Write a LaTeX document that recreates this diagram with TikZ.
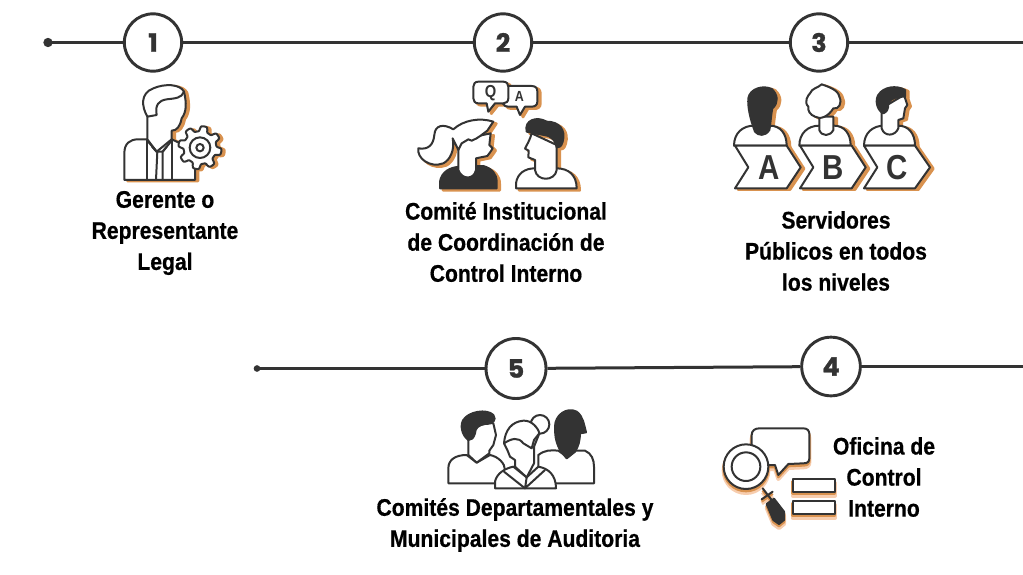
\documentclass[tikz,border=0pt]{standalone}
\usepackage{fontspec}
\setmainfont{Liberation Sans}
\newfontfamily\numf[BoldFeatures={FakeBold=1.2}]{Poppins}
\newfontfamily\lblf[FakeStretch=0.88,BoldFeatures={FakeBold=0.6}]{Liberation Sans}
\newfontfamily\letf[FakeStretch=0.85]{Liberation Sans}
\definecolor{ink}{HTML}{333333}
\definecolor{shad}{HTML}{D9924F}
\definecolor{glow}{HTML}{F7CDAE}
\tikzset{
  tl/.style={draw=ink,line width=1.5pt,line join=round,line cap=round},
  ln/.style={tl,fill=white},
  dk/.style={tl,fill=ink},
  op/.style={tl},
  track/.style={draw=ink,line width=2.25pt},
  badge/.style={circle,draw=ink,line width=2.2pt,fill=white,minimum size=43pt,inner sep=0pt,font=\numf\bfseries\fontsize{19}{19}\selectfont,text=ink},
  dotend/.style={circle,fill=ink,inner sep=0pt,minimum size=7pt},
  lbl/.style={align=center,text=black,font=\lblf\bfseries\fontsize{18}{23.3}\selectfont,inner sep=0pt},
  letter/.style={text=ink,inner sep=0pt},
  shadowed/.style={ln/.style={draw=shad,line width=2pt,fill=shad,line join=round},dk/.style={draw=shad,line width=2pt,fill=shad,line join=round},op/.style={draw=shad,line width=2pt,line join=round}},
  glowed/.style={ln/.style={draw=glow,line width=3pt,fill=glow,line join=round},dk/.style={draw=glow,line width=3pt,fill=glow,line join=round},op/.style={draw=glow,line width=3pt,line join=round}}
}
% ---- icon 1 : manager with gear
\newcommand\iconOne{%
  \path[ln] (283,510) -- (283,430) .. controls (283,400) and (300,388) .. (325,388) -- (352,388) -- (425,388) -- (495,420) -- (495,510) -- cycle;
  \path[ln] (352,388) -- (352,320) .. controls (335,290) and (330,250) .. (370,235) .. controls (405,220) and (450,222) .. (462,245) .. controls (470,280) and (470,305) .. (455,325) .. controls (450,350) and (440,362) .. (425,362) -- (425,388) -- (380,425) -- cycle;
  \path[op] (352,320) -- (380,315) .. controls (375,285) and (385,272) .. (410,268) .. controls (435,265) and (455,265) .. (462,245);
  \path[op] (352,388) -- (352,510) (425,388) -- (425,510);
  \path[op] (352,392) -- (380,425) -- (398,425) -- (425,392);
  \path[op] (382,425) -- (378,510) (398,425) -- (398,510) (366,410) -- (380,425) (410,410) -- (398,425);
  \path[ln] plot[samples=193,domain=0:360] ({510+(57+8*tanh(2.5*sin(8*\x)))*cos(\x)},{413+(57+8*tanh(2.5*sin(8*\x)))*sin(\x)}) -- cycle;
  \path[op] (510,413) circle (31) (510,413) circle (11);
}
% ---- icon 2 : Q and A
\newcommand\iconTwo{%
  \path[ln] (325,48) -- (395,48) .. controls (408,48) and (412,55) .. (412,65) -- (412,95) .. controls (412,105) and (405,110) .. (395,110) -- (375,110) -- (360,135) -- (350,110) -- (325,110) .. controls (318,110) and (312,108) .. (308,100) -- cycle;
  \path[ln] (235,35) -- (310,35) .. controls (320,35) and (325,42) .. (325,50) -- (325,85) .. controls (325,95) and (318,100) .. (310,100) -- (285,100) -- (265,125) -- (260,100) -- (235,100) .. controls (225,100) and (220,93) .. (220,85) -- (220,50) .. controls (220,42) and (225,35) .. (235,35) -- cycle;
  \path[dk] (120,355) -- (120,335) .. controls (125,305) and (150,292) .. (180,290) -- (250,288) .. controls (275,295) and (290,312) .. (290,335) -- (290,355) -- cycle;
  \path[ln] (175,235) -- (175,300) .. controls (185,330) and (222,330) .. (228,300) -- (228,265) -- (262,258) .. controls (268,250) and (272,245) .. (278,235) -- (268,225) -- (272,190) -- (225,200) -- (175,205) -- cycle;
  \path[ln] (280,155) .. controls (240,142) and (190,150) .. (160,178) .. controls (130,160) and (105,165) .. (103,195) .. controls (100,225) and (85,240) .. (55,235) .. controls (50,265) and (90,295) .. (130,280) .. controls (150,270) and (165,240) .. (158,205) -- (175,240) -- (185,220) -- (205,208) -- (215,212) .. controls (235,205) and (250,190) .. (262,182) -- cycle;
  \path[ln] (348,355) -- (348,340) .. controls (352,310) and (375,295) .. (405,295) -- (470,295) .. controls (505,295) and (530,315) .. (530,355) -- cycle;
  \path[ln] (405,270) -- (405,300) .. controls (410,335) and (465,335) .. (470,300) -- (470,225) -- (395,190) .. controls (390,210) and (380,225) .. (375,236) -- (386,242) -- (385,262) -- cycle;
  \path[dk] (380,185) .. controls (372,150) and (410,138) .. (440,155) .. controls (478,155) and (498,180) .. (488,215) .. controls (484,232) and (475,232) .. (470,232) .. controls (468,215) and (458,198) .. (432,195) -- cycle;
}
% ---- icon 3 : A B C people
\newcommand\chev[3]{%
  \path[ln] (#1,212) -- (#2,212) -- (#2+#3,277) -- (#2,340) -- (#1,340) -- (#1+40,277) -- cycle;
}
\newcommand\shoulders[2]{%
  \path[ln] (#1,212) .. controls (#1,175) and (#1+25,152) .. (#1+60,152) -- (#2-50,152) .. controls (#2-20,152) and (#2,175) .. (#2,212) -- cycle;
}
\newcommand\iconThree{%
  \shoulders{42}{200}\chev{45}{200}{42}
  \path[dk] (105,170) .. controls (90,130) and (83,95) .. (85,70) .. controls (90,40) and (130,30) .. (155,42) .. controls (175,60) and (175,85) .. (157,100) .. controls (152,125) and (152,145) .. (148,165) .. controls (135,185) and (115,182) .. (105,170) -- cycle;
  \shoulders{238}{392}\chev{240}{395}{42}
  \path[ln] (298,125) -- (298,165) .. controls (305,185) and (330,185) .. (340,165) -- (340,125) -- cycle;
  \path[ln] (305,28) .. controls (325,35) and (355,45) .. (358,65) .. controls (368,85) and (355,105) .. (340,100) .. controls (325,125) and (300,135) .. (285,125) .. controls (270,120) and (262,105) .. (265,95) .. controls (250,80) and (265,60) .. (270,55) .. controls (275,40) and (295,38) .. (305,28) -- cycle;
  \shoulders{432}{585}\chev{432}{585}{45}
  \path[ln] (485,100) -- (485,160) .. controls (492,185) and (525,185) .. (535,160) -- (535,135) -- (550,130) -- (555,100) -- (562,90) -- (552,60) -- cycle;
  \path[dk] (490,115) .. controls (470,105) and (465,75) .. (475,60) .. controls (490,35) and (530,30) .. (555,45) -- (555,65) .. controls (530,65) and (510,70) .. (505,85) .. controls (505,105) and (500,110) .. (490,115) -- cycle;
}
% ---- icon 5 : committee
\newcommand\iconFive{%
  \path[ln] (325,165) .. controls (345,150) and (360,150) .. (385,152) -- (410,170) -- (435,152) -- (465,152) .. controls (485,160) and (492,180) .. (492,200) -- (492,250) -- (325,250) -- cycle;
  \path[dk] (390,150) .. controls (375,120) and (375,100) .. (375,80) .. controls (375,45) and (410,20) .. (440,35) .. controls (460,50) and (462,75) .. (468,97) -- (450,100) .. controls (450,120) and (445,140) .. (435,155) -- (410,175) -- cycle;
  \path[ln] (55,250) -- (55,205) .. controls (55,180) and (75,165) .. (110,165) -- (140,188) -- (180,165) .. controls (205,170) and (225,190) .. (225,210) -- (225,250) -- cycle;
  \path[ln] (115,110) -- (115,165) -- (140,188) -- (178,160) -- (178,152) -- (190,135) -- (198,105) -- (190,70) -- (135,65) -- cycle;
  \path[dk] (115,120) .. controls (95,105) and (90,75) .. (100,60) .. controls (115,35) and (170,25) .. (190,45) .. controls (200,60) and (190,72) .. (165,72) .. controls (145,75) and (135,85) .. (135,100) .. controls (130,115) and (125,120) .. (115,120) -- cycle;
  \path[ln] (330,73) circle (28);
  \path[ln] (195,265) -- (195,245) .. controls (200,220) and (225,205) .. (250,200) -- (290,232) -- (325,200) .. controls (355,205) and (378,225) .. (378,265) -- cycle;
  \path[op] (290,232) -- (285,265) (222,215) -- (285,265) -- (345,210);
  \path[ln] (255,200) -- (255,180) -- (240,170) -- (232,150) -- (222,130) .. controls (225,90) and (245,65) .. (280,62) .. controls (305,60) and (325,85) .. (328,100) -- (312,140) -- (312,190) -- (290,232) -- cycle;
  \path[op] (222,130) .. controls (245,115) and (265,110) .. (280,130) -- (305,145) -- (312,120) -- (328,100);
}
% ---- icon 4 : magnifier
\newcommand\iconFour{%
  \path[ln] (148,25) -- (280,25) .. controls (292,25) and (298,32) .. (298,42) -- (298,115) .. controls (298,125) and (292,130) .. (280,130) -- (235,132) -- (205,165) -- (195,135) -- (160,135) -- (125,75) -- (125,45) .. controls (125,32) and (135,25) .. (148,25) -- cycle;
  \path[ln] (248,178) rectangle (375,215);
  \path[ln] (248,243) rectangle (375,282);
  \path[op] (158,205) -- (185,240);
  \path[op] (155,238) -- (188,215);
  \path[dk] (170,252) -- (192,236) -- (222,275) -- (222,300) -- (207,312) -- (190,300) -- cycle;
  \path[ln] (108,140) circle (67);
  \path[ln] (108,140) circle (43);
}
\begin{document}
\begin{tikzpicture}[x=0.75pt,y=-0.75pt]
\useasboundingbox (0,0) rectangle (1023,574);
% tracks and badges
\coordinate (s1) at (48,42.5);
\coordinate (e1) at (1023,42.5);
\coordinate (s2) at (257,368.5);
\coordinate (e2) at (1023,366.5);
\node[dotend] (d1) at (s1) {};
\node[dotend,minimum size=5pt] (d2) at (s2) {};
\node[badge] (c1) at (153,42.5) {1};
\node[badge] (c2) at (503,42.5) {2};
\node[badge] (c3) at (819,42.5) {3};
\node[badge,minimum size=45pt] (c5) at (516,368.5) {5};
\node[badge,minimum size=44pt] (c4) at (831,366.5) {4};
\draw[track] (d1.center) -- (c1);
\draw[track] (c1) -- (c2);
\draw[track] (c2) -- (c3);
\draw[track] (c3) -- (e1);
\draw[track] (d2.center) -- (c5);
\draw[track] (c5) -- (c4);
\draw[track] (c4) -- (e2);
% icons
\begin{scope}[shift={(30,10)},scale=1/3]
  \begin{scope}[shift={(9,3)},shadowed]\iconOne\end{scope}
  \iconOne
\end{scope}
\begin{scope}[shift={(400,70)},scale=1/3]
  \begin{scope}[shift={(9,6)},shadowed]\iconTwo\end{scope}
  \iconTwo
  \node[letter,font=\letf\bfseries\fontsize{13}{13}\selectfont] (lq) at (272,68) {Q};
  \node[letter,font=\letf\bfseries\fontsize{11}{11}\selectfont] (la) at (358,80) {A};
\end{scope}
\begin{scope}[shift={(720,75)},scale=1/3]
  \begin{scope}[shift={(10,4)},shadowed]\iconThree\end{scope}
  \iconThree
  \node[letter,font=\letf\bfseries\fontsize{26}{26}\selectfont] (na) at (146,277) {A};
  \node[letter,font=\letf\bfseries\fontsize{26}{26}\selectfont] (nb) at (340,277) {B};
  \node[letter,font=\letf\bfseries\fontsize{26}{26}\selectfont] (nc) at (532,277) {C};
\end{scope}
\begin{scope}[shift={(430,400)},scale=1/3]
  \iconFive
\end{scope}
\begin{scope}[shift={(710,420)},scale=1/3]
  \begin{scope}[shift={(0,12)},glowed]\iconFour\end{scope}
  \begin{scope}[shift={(0,6)},shadowed]\iconFour\end{scope}
  \iconFour
\end{scope}
% labels
\node[lbl] (t1) at (165,233) {Gerente o\\Representante\\Legal};
\node[lbl] (t2) at (506,242) {Comité Institucional\\de Coordinación de\\Control Interno};
\node[lbl] (t3) at (836,251) {Servidores\\Públicos en todos\\los niveles};
\node[lbl] (t5) at (515,525) {Comités Departamentales y\\Municipales de Auditoria};
\node[lbl] (t4) at (884,477) {Oficina de\\Control\\Interno};
\end{tikzpicture}
\end{document}
